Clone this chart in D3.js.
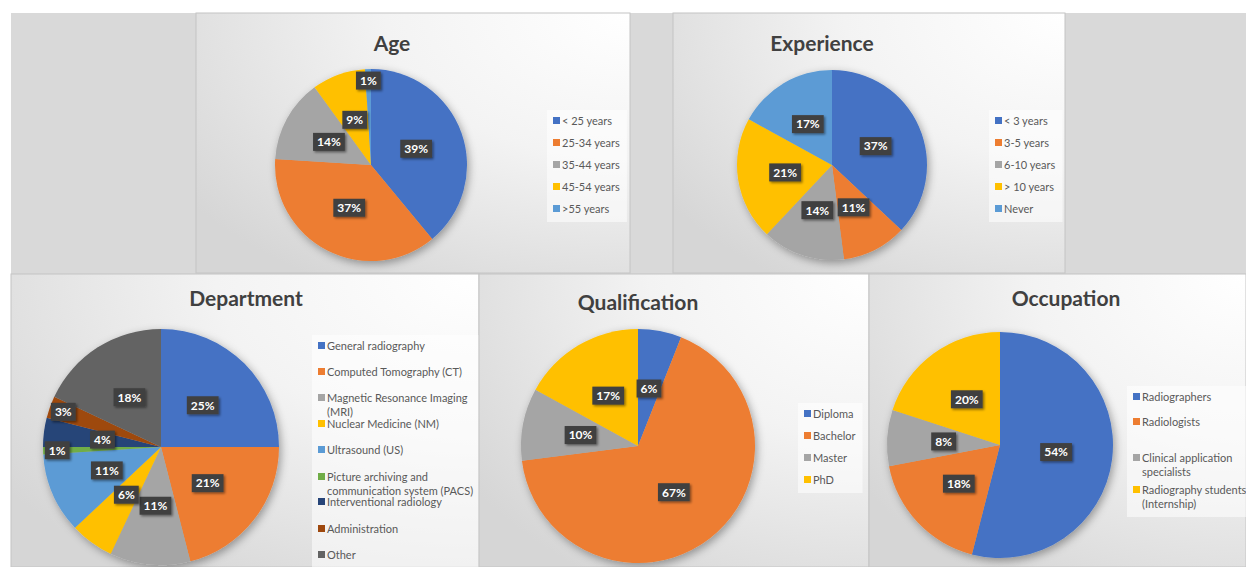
<!DOCTYPE html>
<html>
<head>
<meta charset="utf-8">
<script src="https://cdn.jsdelivr.net/npm/d3@7"></script>
<style>
  body { margin: 0; background: #fff; }
  svg { display: block; font-family: Lato, "Open Sans", sans-serif; }
</style>
</head>
<body>
<svg width="1246" height="567"></svg>
<script>
// ---- data (percent) ----
var ageCategories = ["< 25 years", "25-34 years", "35-44 years", "45-54 years", ">55 years"],
    ageValues = [39, 37, 14, 9, 1];

var expCategories = ["< 3 years", "3-5 years", "6-10 years", "> 10 years", "Never"],
    expValues = [37, 11, 14, 21, 17];

var deptCategories = ["General radiography", "Computed Tomography (CT)", "Magnetic Resonance Imaging (MRI)",
                      "Nuclear Medicine (NM)", "Ultrasound (US)", "Picture archiving and communication system (PACS)",
                      "Interventional radiology", "Administration", "Other"],
    deptValues = [25, 21, 11, 6, 11, 1, 4, 3, 18];

var qualCategories = ["Diploma", "Bachelor", "Master", "PhD"],
    qualValues = [6, 67, 10, 17];

var occCategories = ["Radiographers", "Radiologists", "Clinical application specialists", "Radiography students (Internship)"],
    occValues = [54, 18, 8, 20];

// office palette
var palette = ["#4472c4", "#ed7d31", "#a5a5a5", "#ffc000", "#5b9bd5", "#70ad47", "#264478", "#9e480e", "#636363"];

// ---- layout of each panel ----
var panels = [
  { title: "Age", cats: ageCategories, vals: ageValues,
    box: [196, 13, 434, 260], cx: 371, cy: 165, r: 96, tx: 392, ty: 51,
    lx: 553, rows: [121, 143, 165, 187, 209], wrap: 200 },
  { title: "Experience", cats: expCategories, vals: expValues,
    box: [673, 13, 392, 260], cx: 832, cy: 165, r: 95, tx: 822, ty: 51,
    lx: 995, rows: [121, 143, 165, 187, 209], wrap: 200 },
  { title: "Department", cats: deptCategories, vals: deptValues,
    box: [11, 274, 468, 293], cx: 161, cy: 447, r: 118, tx: 246, ty: 306,
    lx: 318, rows: [346, 372, 398, 424, 450, 477, 502, 529, 555], wrap: 150 },
  { title: "Qualification", cats: qualCategories, vals: qualValues,
    box: [479, 274, 390, 293], cx: 638, cy: 446, r: 117, tx: 638, ty: 310,
    lx: 804, rows: [414, 436, 458, 480], wrap: 200 },
  { title: "Occupation", cats: occCategories, vals: occValues,
    box: [869, 274, 377, 293], cx: 1000, cy: 445, r: 113, tx: 1066, ty: 306,
    lx: 1133, rows: [397, 422, 458, 490], wrap: 108 }
];

var svg = d3.select("svg");
var defs = svg.append("defs");

// panel fill: white top-right fading to grey bottom-left
var grad = defs.append("radialGradient")
    .attr("id", "panelFill")
    .attr("cx", "100%").attr("cy", "0%").attr("r", "125%");
grad.append("stop").attr("offset", "0%").attr("stop-color", "#ffffff");
grad.append("stop").attr("offset", "45%").attr("stop-color", "#f3f3f3");
grad.append("stop").attr("offset", "100%").attr("stop-color", "#d6d6d6");

var pieShadow = defs.append("filter").attr("id", "pieShadow")
    .attr("x", "-20%").attr("y", "-20%").attr("width", "140%").attr("height", "140%");
pieShadow.append("feDropShadow")
    .attr("dx", 2).attr("dy", 3).attr("stdDeviation", 4)
    .attr("flood-color", "#000").attr("flood-opacity", 0.35);

var boxShadow = defs.append("filter").attr("id", "boxShadow")
    .attr("x", "-30%").attr("y", "-30%").attr("width", "160%").attr("height", "160%");
boxShadow.append("feDropShadow")
    .attr("dx", 1.5).attr("dy", 1.5).attr("stdDeviation", 1.2)
    .attr("flood-color", "#000").attr("flood-opacity", 0.45);

// grey backdrop behind the top row
svg.append("rect")
    .attr("x", 11).attr("y", 13).attr("width", 1235).attr("height", 261)
    .attr("fill", "#d9d9d9");

var pie = d3.pie().sort(null).value(function(d) { return d; });

panels.forEach(function(p) {
  var g = svg.append("g");

  g.append("rect")
      .attr("x", p.box[0]).attr("y", p.box[1])
      .attr("width", p.box[2]).attr("height", p.box[3])
      .attr("fill", "url(#panelFill)")
      .attr("stroke", "#c4c4c4")
      .attr("stroke-width", 1);

  // title
  g.append("text")
      .attr("x", p.tx).attr("y", p.ty)
      .attr("text-anchor", "middle")
      .attr("fill", "#404040")
      .style("font-size", "21px")
      .style("font-weight", "bold")
      .text(p.title);

  var color = d3.scaleOrdinal().domain(p.cats).range(palette);
  var arcs = pie(p.vals);
  var arc = d3.arc().innerRadius(0).outerRadius(p.r);

  var pg = g.append("g").attr("transform", "translate(" + p.cx + "," + p.cy + ")");
  pg.append("g")
      .attr("filter", "url(#pieShadow)")
    .selectAll("path")
    .data(arcs)
    .enter().append("path")
      .attr("d", arc)
      .attr("fill", function(d, i) { return color(p.cats[i]); });

  // data labels (small slices pushed towards the rim, as excel best fit does)
  arcs.forEach(function(d) {
    var lr = d.data <= 3 ? p.r * 0.88 : p.r * 0.5;
    var c = d3.arc().innerRadius(lr).outerRadius(lr).centroid(d);
    var lab = pg.append("g").attr("transform", "translate(" + c[0] + "," + c[1] + ")");
    var rect = lab.append("rect").attr("fill", "#404040").attr("filter", "url(#boxShadow)");
    var t = lab.append("text")
        .attr("text-anchor", "middle")
        .attr("dy", "0.36em")
        .attr("fill", "#fff")
        .style("font-size", "12px")
        .style("font-weight", "bold")
        .text(d.data + "%");
    var w = t.node().getComputedTextLength() + 8;
    rect.attr("x", -w / 2).attr("y", -9).attr("width", w).attr("height", 18);
  });

  // legend
  var lg = g.append("g");
  var lbg = lg.append("rect").attr("fill", "#ffffff").attr("fill-opacity", 0.55);
  var maxW = 0;
  p.cats.forEach(function(name, i) {
    var y = p.rows[i];
    lg.append("rect")
        .attr("x", p.lx).attr("y", y - 4)
        .attr("width", 7).attr("height", 7)
        .attr("fill", color(name));
    var t = lg.append("text")
        .attr("x", p.lx + 9).attr("y", y)
        .attr("dy", "0.35em")
        .attr("fill", "#595959")
        .style("font-size", "11px");
    // greedy word wrap
    var words = name.split(" "), line = [], lineNo = 0;
    var ts = t.append("tspan").attr("x", p.lx + 9);
    words.forEach(function(wd) {
      line.push(wd);
      ts.text(line.join(" "));
      if (ts.node().getComputedTextLength() > p.wrap && line.length > 1) {
        line.pop();
        ts.text(line.join(" "));
        line = [wd];
        lineNo++;
        ts = t.append("tspan").attr("x", p.lx + 9).attr("dy", "1.25em").text(wd);
      }
    });
    maxW = Math.max(maxW, t.node().getBBox().width);
  });
  var top = p.rows[0] - 11,
      bottom = Math.min(p.rows[p.rows.length - 1] + 13 + (p.title === "Occupation" ? 14 : 0), p.box[1] + p.box[3]);
  lbg.attr("x", p.lx - 6).attr("y", top)
      .attr("width", Math.min(maxW + 22, p.box[0] + p.box[2] - p.lx + 6))
      .attr("height", bottom - top);
});
</script>
</body>
</html>
